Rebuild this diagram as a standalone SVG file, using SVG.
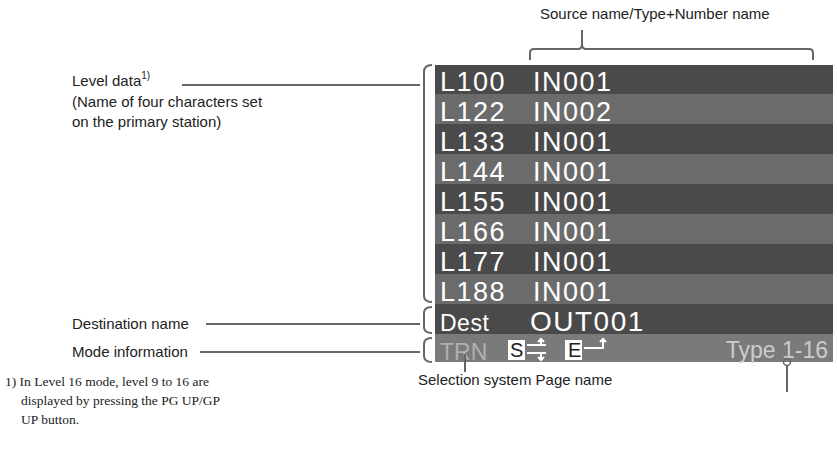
<svg xmlns="http://www.w3.org/2000/svg" width="837" height="459" viewBox="0 0 837 459">
<style>
.lbl{font-family:"Liberation Sans",Arial,sans-serif;font-size:15px;fill:#222}
.fn{font-family:"Liberation Serif","Times New Roman",serif;font-size:13.5px;fill:#222}
.d{fill:#4a4a4a}.l{fill:#6b6b6b}
.t{font-family:"Liberation Sans",Arial,sans-serif;font-size:27px;fill:#fff;letter-spacing:1.5px}
.ln{stroke:#666;stroke-width:2;fill:none}
</style>
<rect width="837" height="459" fill="#fff"/>
<g id="display">
<rect class="d" x="435" y="65" width="398" height="29"/>
<rect class="l" x="435" y="94" width="398" height="30"/>
<rect class="d" x="435" y="124" width="398" height="30"/>
<rect class="l" x="435" y="154" width="398" height="30"/>
<rect class="d" x="435" y="184" width="398" height="30"/>
<rect class="l" x="435" y="214" width="398" height="30"/>
<rect class="d" x="435" y="244" width="398" height="30"/>
<rect class="l" x="435" y="274" width="398" height="30"/>
<rect class="d" x="435" y="304" width="398" height="30"/>
<rect x="435" y="334" width="398" height="28" fill="#7a7a7a"/>
<text class="t" x="440" y="91">L100</text><text class="t" x="533" y="91">IN001</text>
<text class="t" x="440" y="121">L122</text><text class="t" x="533" y="121">IN002</text>
<text class="t" x="440" y="151">L133</text><text class="t" x="533" y="151">IN001</text>
<text class="t" x="440" y="181">L144</text><text class="t" x="533" y="181">IN001</text>
<text class="t" x="440" y="211">L155</text><text class="t" x="533" y="211">IN001</text>
<text class="t" x="440" y="241">L166</text><text class="t" x="533" y="241">IN001</text>
<text class="t" x="440" y="271">L177</text><text class="t" x="533" y="271">IN001</text>
<text class="t" x="440" y="301">L188</text><text class="t" x="533" y="301">IN001</text>
<text class="t" x="440" y="331" style="font-size:23px;letter-spacing:0.5px">Dest</text>
<text class="t" x="530" y="331" style="font-size:28px">OUT001</text>
<text class="t" x="440" y="360" style="font-size:23px;fill:#b0b0b0;letter-spacing:0">TRN</text>
<rect x="508" y="340" width="17" height="20" fill="#fff"/>
<text x="510" y="357" style="font-family:'Liberation Sans',sans-serif;font-size:20px;fill:#222">S</text>
<path d="M527 345H546M527 353H546M541 345V339M538 342L541 339L544 342M541 353V360M538 357L541 360L544 357" stroke="#fff" stroke-width="2" fill="none"/>
<rect x="565" y="340" width="17" height="20" fill="#fff"/>
<text x="568" y="357" style="font-family:'Liberation Sans',sans-serif;font-size:20px;fill:#222">E</text>
<path d="M584 348H603V339M600 342L603 339L606 342" stroke="#fff" stroke-width="2" fill="none"/>
<text class="t" x="828" y="358" text-anchor="end" style="font-size:23px;fill:#ccc;letter-spacing:0">Type 1-16</text>
</g>
<g id="connectors">
<path class="ln" d="M530 60V53Q530 49 534 49H578Q582 49 582 44V30M582 44Q582 49 586 49H809Q813 49 813 53V60"/>
<path class="ln" d="M182 85H420M432 65Q424 65 424 72V296Q424 302 432 302"/>
<path class="ln" d="M206 324H420M432 307Q424 307 424 313V327Q424 333 432 333"/>
<path class="ln" d="M200 352H420M432 338Q424 338 424 344V356Q424 362 432 362"/>
<path class="ln" d="M465 354V372"/>
<path class="ln" d="M787 366V392"/>
<circle cx="787" cy="362" r="3.5" fill="none" stroke="#666" stroke-width="1.5"/>
</g>
<g id="labels">
<text class="lbl" x="540" y="19">Source name/Type+Number name</text>
<text class="lbl" x="72" y="86">Level data<tspan font-size="10" dy="-7">1)</tspan></text>
<text class="lbl" x="72" y="107">(Name of four characters set</text>
<text class="lbl" x="72" y="127">on the primary station)</text>
<text class="lbl" x="72" y="329">Destination name</text>
<text class="lbl" x="72" y="357">Mode information</text>
<text class="lbl" x="418" y="385">Selection system Page name</text>
<text class="fn" x="5" y="386">1) In Level 16 mode, level 9 to 16 are</text>
<text class="fn" x="21" y="405">displayed by pressing the PG UP/GP</text>
<text class="fn" x="21" y="424">UP button.</text>
</g>
</svg>
